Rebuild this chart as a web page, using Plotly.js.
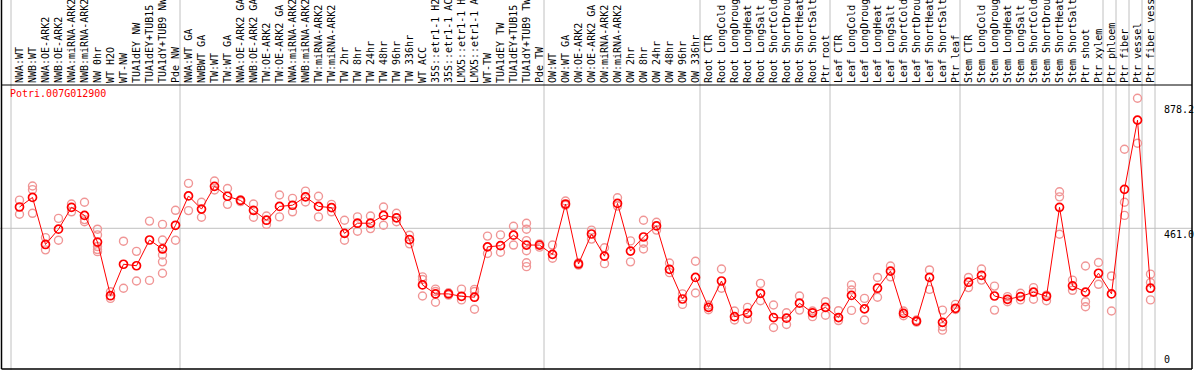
<!DOCTYPE html>
<html>
<head>
<meta charset="utf-8">
<script src="https://cdn.plot.ly/plotly-3.0.1.min.js"></script>
<style>
html,body{margin:0;padding:0;background:#fff;}
#chart{width:1194px;height:370px;}
</style>
</head>
<body>
<div id="chart"></div>
<script>
const geneName = "Potri.007G012900";

const labels = [
"NWA:WT","NWB:WT","NWA:OE-ARK2","NWB:OE-ARK2","NWA:miRNA-ARK2","NWB:miRNA-ARK2","NW 0hr","WT H2O","WT-NW","TUA1dEY NW","TUA1dEY+TUB15 NW","TUA1dY+TUB9 NW","Pde NW",
"NWA:WT GA","NWBWT GA","TW:WT","TW:WT GA","NWA:OE-ARK2 GA","NWB:OE-ARK2 GA","TW:OE-ARK2","TW:OE-ARK2 GA","NWA:miRNA-ARK2 GA","NWB:miRNA-ARK2 GA","TW:miRNA-ARK2","TW:miRNA-ARK2 GA","TW 2hr","TW 8hr","TW 24hr","TW 48hr","TW 96hr","TW 336hr","WT ACC","35S::etr1-1 H2O","35S::etr1-1 ACC","LMX5::etr1-1 H2O","LMX5::etr1-1 ACC","WT-TW","TUA1dEY TW","TUA1dEY+TUB15 TW","TUA1dY+TUB9 TW","Pde TW",
"OW:WT","OW:WT GA","OW:OE-ARK2","OW:OE-ARK2 GA","OW:miRNA-ARK2","OW:miRNA-ARK2 GA","OW 2hr","OW 8hr","OW 24hr","OW 48hr","OW 96hr","OW 336hr",
"Root CTR","Root LongCold","Root LongDrought","Root LongHeat","Root LongSalt","Root ShortCold","Root ShortDrought","Root ShortHeat","Root ShortSalt","Ptr root",
"Leaf CTR","Leaf LongCold","Leaf LongDrought","Leaf LongHeat","Leaf LongSalt","Leaf ShortCold","Leaf ShortDrought","Leaf ShortHeat","Leaf ShortSalt","Ptr leaf",
"Stem CTR","Stem LongCold","Stem LongDrought","Stem LongHeat","Stem LongSalt","Stem ShortCold","Stem ShortDrought","Stem ShortHeat","Stem ShortSalt","Ptr shoot","Ptr xylem",
"Ptr phloem","Ptr fiber","Ptr vessel","Ptr fiber vessel"
];

const means = [
532,564,407,458,531,504,415,236,341,336,422,392,471,
569,525,601,568,554,521,488,534,538,566,534,530,444,478,478,504,496,423,272,242,242,234,231,399,403,438,405,405,
374,542,342,442,368,544,385,432,469,324,225,297,
197,285,166,177,244,163,161,211,179,197,
163,237,192,261,318,177,151,297,147,194,
281,304,235,224,233,248,234,531,269,248,311,
242,591,822,261
];

const replicates = [
[555,508],[602,590,511],[430,389],[494,421],[542,516],[548,483,490],[458,439,400,383,390],[249,227],[418,261],[384,285],[485,287],[474,422,372,349,311],[521,421],
[611,520],[548,498],[619,589],[594,541],[556,550],[542,498],[502,474],[572,499],[561,516],[585,549],[568,499],[541,516],[488,421],[499,451],[502,460],[532,471],[511,483],[438,409],[299,290,235],[258,250,214],[246,238],[258,222],[257,250,191],[435,377],[439,381],[468,405],[478,458,420,386,346,333],[409,398],
[405,361],[552,538],[346,338],[455,425],[396,343],[563,535],[419,349],[488,411,392],[481,455],[345,313],[242,207],[351,245],
[205,189],[325,261],[185,155],[197,157],[277,219],[205,130],[179,140],[235,188],[185,166],[216,171],
[186,153],[272,255,187],[227,155],[297,231],[335,299],[185,169],[155,148],[322,257],[188,133,121],[207,190],
[297,263],[325,288],[268,188],[233,216],[244,222],[263,224],[238,219],[583,566,441],[288,254],[335,216,199],[347,274],
[302,185],[725,548,504],[895,745],[308,280,222]
];

// first category index of each group (separator drawn before it), plus end
const groupStarts = [0,13,41,53,63,73,84,85,86,87,88];

const yTickVals = [0, 461.0, 878.2];
const yTickText = ["0", "461.0", "878.2"];

// ---- build traces ----
const idx = labels.map((_, i) => i);
const repX = [], repY = [];
replicates.forEach((arr, i) => arr.forEach(v => { repX.push(i); repY.push(v); }));

const W = 1194, H = 370, T = 85;
const plotH = H - T;
const mono = "DejaVu Sans Mono, monospace";

const traces = [
  {
    x: repX, y: repY, type: "scatter", mode: "markers",
    marker: {symbol: "circle-open", size: 8, color: "#f09696", line: {width: 1.4, color: "#f09696"}},
    hoverinfo: "y", showlegend: false
  },
  {
    x: idx, y: means, type: "scatter", mode: "lines+markers",
    line: {color: "#ff0000", width: 1},
    marker: {symbol: "circle-open", size: 8, color: "#ff0000", line: {width: 1.7, color: "#ff0000"}},
    hoverinfo: "y", showlegend: false
  }
];

const off = 8.5 / 13;
const topPaper = 1 + T / plotH;
const shapes = [];
groupStarts.forEach(k => {
  shapes.push({type: "line", xref: "x", yref: "paper", x0: k - off, x1: k - off, y0: 0, y1: topPaper,
    line: {color: "#c0c0c0", width: 1}, layer: "below"});
});
// grid line at middle tick
shapes.push({type: "line", xref: "paper", yref: "y", x0: 0, x1: 1192 / W, y0: yTickVals[1], y1: yTickVals[1],
  line: {color: "#c0c0c0", width: 1}, layer: "below"});
// frame
const bottomPaper = (H - 369) / plotH;
shapes.push({type: "line", xref: "paper", yref: "paper", x0: 1.5 / W, x1: 1.5 / W, y0: bottomPaper, y1: topPaper, line: {color: "#000", width: 1.5}});
shapes.push({type: "line", xref: "paper", yref: "paper", x0: 1192 / W, x1: 1192 / W, y0: bottomPaper, y1: topPaper, line: {color: "#000", width: 1.5}});
shapes.push({type: "line", xref: "paper", yref: "paper", x0: 1.5 / W, x1: 1192 / W, y0: 1, y1: 1, line: {color: "#000", width: 1}});
shapes.push({type: "line", xref: "paper", yref: "paper", x0: 1.5 / W, x1: 1192 / W, y0: bottomPaper, y1: bottomPaper, line: {color: "#000", width: 1.5}});

const annotations = yTickVals.map((v, j) => ({
  xref: "paper", yref: "y", x: 1163 / W, y: v, xanchor: "left",
  yanchor: v === 0 ? "bottom" : "top",
  text: yTickText[j], showarrow: false, borderpad: 0,
  font: {family: mono, size: 10, color: "#000"}
}));

const layout = {
  width: W, height: H,
  margin: {l: 0, r: 0, t: T, b: 0, pad: 0},
  paper_bgcolor: "#fff", plot_bgcolor: "#fff",
  title: {text: geneName, x: 10 / W, xanchor: "left", y: 1 - 90 / H, yanchor: "top", xref: "container", yref: "container",
    font: {family: mono, size: 10, color: "#ff0000"}, pad: {t: 0, b: 0, l: 0, r: 0}},
  xaxis: {
    range: [-19.5 / 13, (W - 19.5) / 13], side: "top",
    tickmode: "array", tickvals: idx, ticktext: labels, tickangle: -90,
    tickfont: {family: mono, size: 10, color: "#000"},
    ticks: "", ticklen: 0, ticklabelstandoff: 1,
    showgrid: false, zeroline: false, showline: false, automargin: false, fixedrange: true
  },
  yaxis: {
    range: [-12.0, 939.3], showticklabels: false, ticks: "",
    showgrid: false, zeroline: false, showline: false, automargin: false, fixedrange: true
  },
  shapes: shapes,
  annotations: annotations,
  showlegend: false
};

Plotly.newPlot("chart", traces, layout, {displayModeBar: false, staticPlot: true});
</script>
</body>
</html>
